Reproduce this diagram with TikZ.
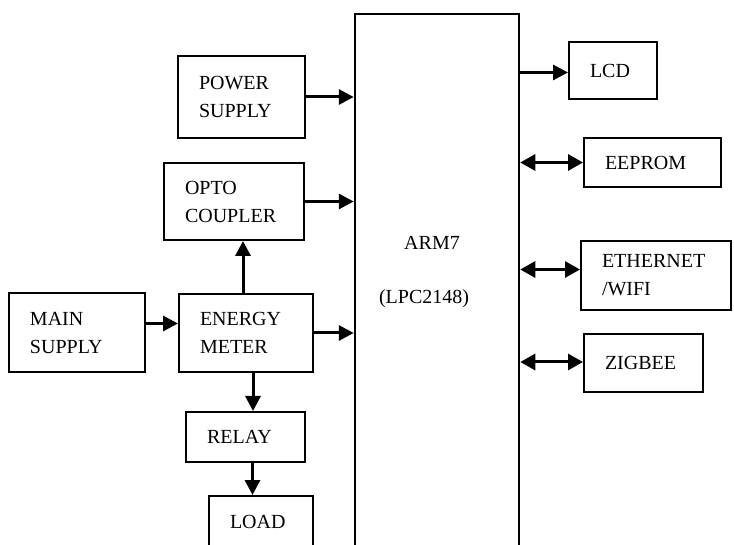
\documentclass[tikz,border=0pt]{standalone}
\usepackage{fontspec}
\setmainfont{Liberation Serif}
\usepackage{tikz}
\usetikzlibrary{arrows.meta,positioning,calc}

\tikzset{
	blk/.style={draw,line width=2pt,align=left,inner xsep=21pt,inner ysep=0pt,font=\fontsize{20}{28}\selectfont},
	arr/.style={line width=3pt,-{Triangle[length=15pt,width=15pt]}},
	dbl/.style={line width=3pt,{Triangle[length=15pt,width=16pt]}-{Triangle[length=15pt,width=16pt]}},
}

\begin{document}
\begin{tikzpicture}[x=1pt,y=-1pt]
	\clip (0,0) rectangle (734,545);
	\fill[white] (0,0) rectangle (734,545);
	% controller
	\node[draw,line width=2.5pt,minimum width=164pt,minimum height=566pt,inner sep=0pt] (arm) at (437,297) {};
	\node[font=\fontsize{20}{28}\selectfont] (armname) at (432,243) {ARM7};
	\node[font=\fontsize{20}{28}\selectfont] (armpart) at (424,299) {(LPC2148)};
	% left side
	\node[blk,text width=85pt,minimum height=82pt] (power) at (241.5,97) {POWER\\SUPPLY};
	\node[blk,text width=98pt,minimum height=77pt] (opto) at (234,201.5) {OPTO\\COUPLER};
	\node[blk,text width=94pt,minimum height=79pt] (main) at (77,332.5) {MAIN\\SUPPLY};
	\node[blk,text width=92pt,minimum height=78pt] (energy) at (246,333) {ENERGY\\METER};
	\node[blk,text width=77pt,minimum height=50pt] (relay) at (245.5,437) {RELAY};
	\node[blk,text width=62pt,minimum height=52pt] (load) at (261,522) {LOAD};
	% right side
	\node[blk,text width=46pt,minimum height=57pt] (lcd) at (613,70.5) {LCD};
	\node[blk,text width=95pt,minimum height=49pt] (eeprom) at (652.5,162.5) {EEPROM};
	\node[blk,text width=108pt,minimum height=69pt] (ethernet) at (656,275.5) {ETHERNET\\/WIFI};
	\node[blk,text width=77pt,minimum height=58pt] (zigbee) at (643.5,363) {ZIGBEE};

	\draw[arr] (power.east) -- (power.east -| arm.west);
	\draw[arr] (opto.east) -- (opto.east -| arm.west);
	\draw[arr] (energy.east) -- (energy.east -| arm.west);
	\draw[arr] ([yshift=9pt]main.east) -- ([yshift=9pt]main.east -| energy.west);
	\draw[arr] ([xshift=-3pt]energy.north) -- ([xshift=-3pt]energy.north |- opto.south);
	\draw[arr] ([xshift=7pt]energy.south) -- ([xshift=7pt]energy.south |- relay.north);
	\draw[arr] ([xshift=7pt]relay.south) -- ([xshift=7pt]relay.south |- load.north);
	\draw[arr] ([yshift=-2pt]lcd.west -| arm.east) -- ([yshift=-2pt]lcd.west);
	\foreach \n/\s in {eeprom/0,ethernet/6,zigbee/1}
		\draw[dbl] ([yshift=\s pt]\n.west -| arm.east) -- ([yshift=\s pt]\n.west);
\end{tikzpicture}
\end{document}
